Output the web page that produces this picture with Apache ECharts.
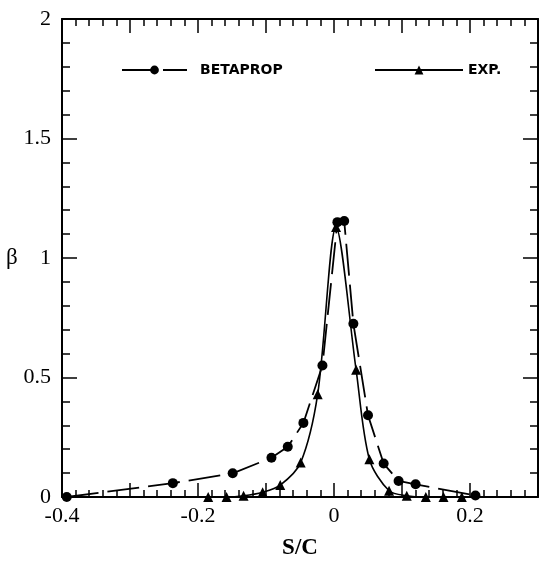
<!DOCTYPE html>
<html>
<head>
<meta charset="utf-8">
<script src="https://cdn.jsdelivr.net/npm/echarts@6/dist/echarts.min.js"></script>
<style>html,body{margin:0;padding:0;background:#fff;}#c{width:541px;height:565px;}</style>
</head>
<body>
<div id="c"></div>
<script>
// BETAPROP (circles, dashed line)
var betaX = [-0.393, -0.237, -0.149, -0.092, -0.068, -0.045, -0.017, 0.005, 0.015, 0.0285, 0.05, 0.073, 0.095, 0.12, 0.208];
var betaY = [0, 0.058, 0.099, 0.164, 0.21, 0.31, 0.55, 1.15, 1.155, 0.725, 0.342, 0.14, 0.067, 0.053, 0.006];
// EXP. (triangles, solid line)
var expX = [-0.185, -0.158, -0.133, -0.105, -0.079, -0.049, -0.024, 0.003, 0.0325, 0.052, 0.081, 0.107, 0.135, 0.161, 0.188];
var expY = [0, 0, 0.005, 0.02, 0.05, 0.144, 0.43, 1.13, 0.532, 0.158, 0.026, 0.005, 0, 0, 0];
var xTickLabels = ['-0.4', '-0.2', '0', '0.2'];
var yTickLabels = ['0', '0.5', '1', '1.5', '2'];

function pairs(xs, ys) { return xs.map(function (x, i) { return [x, ys[i]]; }); }

var serif = 'Liberation Serif';
var axisCommon = {
  type: 'value',
  axisLine: { show: true, onZero: false, lineStyle: { color: '#000', width: 2 } },
  axisTick: { show: true, inside: true, length: 14, lineStyle: { color: '#000', width: 1.5 } },
  minorTick: { show: true, splitNumber: 5, length: 7, lineStyle: { color: '#000', width: 1.5 } },
  splitLine: { show: false },
  minorSplitLine: { show: false }
};
function clone(o) { return JSON.parse(JSON.stringify(o)); }

var xBottom = Object.assign(clone(axisCommon), {
  position: 'bottom', min: -0.4, max: 0.3, interval: 0.1,
  name: 'S/C', nameLocation: 'middle', nameGap: 40,
  nameTextStyle: { fontFamily: serif, fontSize: 23, fontWeight: 'bold', color: '#000' },
  axisLabel: {
    show: true, margin: 8, fontFamily: serif, fontSize: 22, color: '#000',
    formatter: function (v) {
      var s = (Math.round(v * 10) / 10);
      var lbl = s === 0 ? '0' : String(s);
      return xTickLabels.indexOf(lbl) >= 0 ? lbl : '';
    }
  }
});
var xTop = Object.assign(clone(axisCommon), {
  position: 'top', min: -0.4, max: 0.3, interval: 0.1, axisLabel: { show: false }
});
var yLeft = Object.assign(clone(axisCommon), {
  position: 'left', min: 0, max: 2, interval: 0.5,
  name: 'β', nameLocation: 'middle', nameGap: 34, nameRotate: 0,
  nameTextStyle: { fontFamily: serif, fontSize: 23, color: '#000', verticalAlign: 'middle', padding: [10, 0, 0, 0] },
  axisLabel: {
    show: true, margin: 11, fontFamily: serif, fontSize: 22, color: '#000',
    formatter: function (v) {
      var lbl = String(Math.round(v * 10) / 10);
      return yTickLabels.indexOf(lbl) >= 0 ? lbl : '';
    }
  }
});
yLeft.axisTick.length = 15; yLeft.minorTick.length = 8;
var yRight = Object.assign(clone(axisCommon), {
  position: 'right', min: 0, max: 2, interval: 0.5, axisLabel: { show: false }
});
yRight.axisTick.length = 15; yRight.minorTick.length = 8;

var legendText = { fontFamily: 'DejaVu Sans', fontWeight: 'bold', fontSize: 14, color: '#000' };

var option = {
  animation: false,
  backgroundColor: '#fff',
  grid: { left: 62, right: 2, top: 19, bottom: 68 },
  xAxis: [xBottom, xTop],
  yAxis: [yLeft, yRight],
  legend: [
    { data: ['BETAPROP'], left: 116, top: 58, itemWidth: 65, itemHeight: 11, textStyle: Object.assign({ padding: [0, 0, 0, 8] }, legendText) },
    { data: ['EXP.'], left: 369, top: 58, itemWidth: 88, itemHeight: 11, textStyle: Object.assign({ padding: [0, 0, 0, 0] }, legendText) }
  ],
  series: [
    {
      name: 'BETAPROP', type: 'line', xAxisIndex: 0, yAxisIndex: 0,
      data: pairs(betaX, betaY),
      symbol: 'circle', symbolSize: 10,
      itemStyle: { color: '#000' },
      lineStyle: { color: '#000', width: 1.8, type: [32, 9] },
      z: 3
    },
    {
      name: 'EXP.', type: 'line', xAxisIndex: 0, yAxisIndex: 0,
      data: pairs(expX, expY),
      symbol: 'triangle', symbolSize: 10,
      smooth: 0.3,
      itemStyle: { color: '#000' },
      lineStyle: { color: '#000', width: 1.6, type: 'solid' },
      z: 2
    }
  ]
};
var chart = echarts.init(document.getElementById('c'), null, { renderer: 'canvas' });
chart.setOption(option);
</script>
</body>
</html>
